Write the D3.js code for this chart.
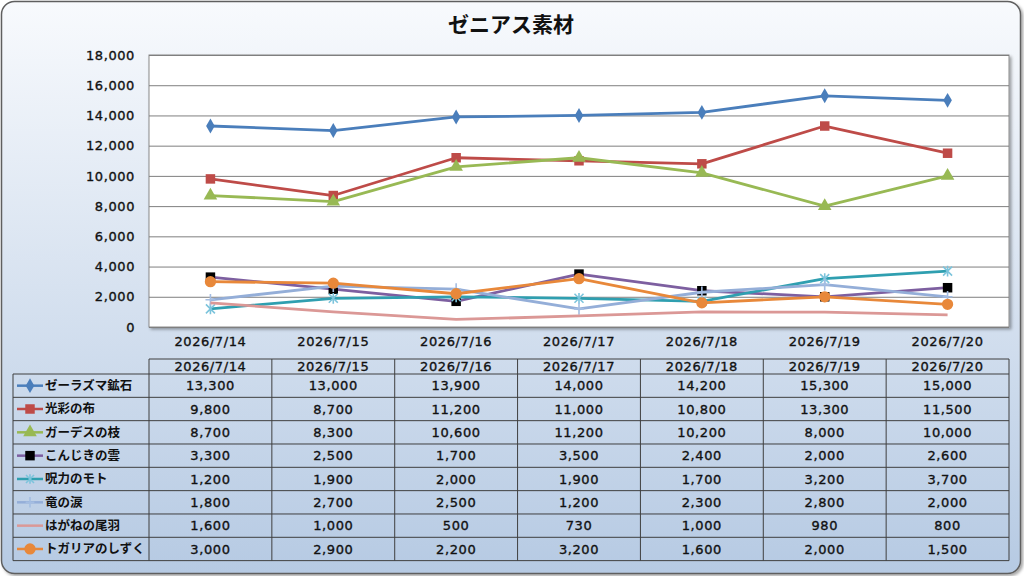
<!DOCTYPE html>
<html lang="ja">
<head>
<meta charset="UTF-8">
<title>ゼニアス素材</title>
<script src="https://d3js.org/d3.v7.min.js"></script>
<style>
    body { margin: 0; }
    text { font-family: "DejaVu Sans", "Noto Sans CJK JP", sans-serif; fill: #111; }
    .num { font-size: 13px; letter-spacing: 0.6px; stroke: #111; stroke-width: 0.35px; }
    .jp { font-family: "Noto Sans CJK JP", sans-serif; font-weight: bold; }
</style>
</head>
<body>
<script>
    // data
    const dates = ["2026/7/14", "2026/7/15", "2026/7/16", "2026/7/17", "2026/7/18", "2026/7/19", "2026/7/20"];
    const names = ["ゼーラズマ鉱石", "光彩の布", "ガーデスの枝", "こんじきの雲", "呪力のモト", "竜の涙", "はがねの尾羽", "トガリアのしずく"];
    const zerazuma = [13300, 13000, 13900, 14000, 14200, 15300, 15000];
    const kousai   = [9800, 8700, 11200, 11000, 10800, 13300, 11500];
    const gardes   = [8700, 8300, 10600, 11200, 10200, 8000, 10000];
    const konjiki  = [3300, 2500, 1700, 3500, 2400, 2000, 2600];
    const juryoku  = [1200, 1900, 2000, 1900, 1700, 3200, 3700];
    const ryu      = [1800, 2700, 2500, 1200, 2300, 2800, 2000];
    const hagane   = [1600, 1000, 500, 730, 1000, 980, 800];
    const togaria  = [3000, 2900, 2200, 3200, 1600, 2000, 1500];
    const yTicks = [0, 2000, 4000, 6000, 8000, 10000, 12000, 14000, 16000, 18000];

    const values = [zerazuma, kousai, gardes, konjiki, juryoku, ryu, hagane, togaria];
    const lineColors = ["#4a7ebb", "#be4b48", "#98b954", "#7d5fa0", "#2f9fb0", "#94aed8", "#db9896", "#e8883a"];
    const markColors = ["#4a7ebb", "#be4b48", "#98b954", "#000000", "#7cc4dc", "#a4bde2", null, "#e8883a"];
    const markTypes = ["diamond", "square", "triangle", "square", "star", "plus", "none", "circle"];

    const W = 1024, H = 576;
    const svg = d3.select("body").append("svg")
        .attr("width", W).attr("height", H);

    const defs = svg.append("defs");
    const grad = defs.append("linearGradient").attr("id", "bg")
        .attr("x1", 0).attr("y1", 0).attr("x2", 0).attr("y2", 1);
    grad.append("stop").attr("offset", "0%").attr("stop-color", "#f8fafd");
    grad.append("stop").attr("offset", "100%").attr("stop-color", "#b6cae3");
    const sh = defs.append("filter").attr("id", "shadow")
        .attr("x", "-5%").attr("y", "-5%").attr("width", "110%").attr("height", "115%");
    sh.append("feDropShadow").attr("dx", 2).attr("dy", 2).attr("stdDeviation", 1.5)
        .attr("flood-color", "#000").attr("flood-opacity", 0.35);

    svg.append("rect")
        .attr("x", 1.5).attr("y", 1.5).attr("width", 1019).attr("height", 572)
        .attr("rx", 13)
        .attr("fill", "url(#bg)").attr("stroke", "#5f5f5f").attr("stroke-width", 1.5)
        .attr("filter", "url(#shadow)");

    svg.append("text")
        .attr("class", "jp")
        .attr("x", 511).attr("y", 24).attr("dy", "0.36em")
        .attr("text-anchor", "middle")
        .style("font-size", "21px")
        .text("ゼニアス素材");

    const plotL = 149, plotR = 1009, plotT = 55, plotB = 327;

    const x = d3.scaleBand().domain(dates).range([plotL, plotR]);
    const y = d3.scaleLinear().domain([0, 18000]).range([plotB, plotT]);
    const cx = d => x(d) + x.bandwidth() / 2;

    // plot area
    svg.append("rect")
        .attr("x", plotL).attr("y", plotT).attr("width", plotR - plotL).attr("height", plotB - plotT)
        .attr("fill", "#fff").attr("stroke", "#8a8a8a").attr("stroke-width", 1)
        .attr("filter", "url(#shadow)");

    svg.append("g")
        .attr("transform", `translate(${plotL},0)`)
        .call(d3.axisLeft(y).tickValues(yTicks).tickSize(-(plotR - plotL)).tickFormat(""))
        .call(g => g.select(".domain").remove())
        .call(g => g.selectAll("line").attr("stroke", "#7f7f7f").attr("stroke-width", 1));

    svg.append("g")
        .attr("transform", `translate(${plotL},0)`)
        .call(d3.axisLeft(y).tickValues(yTicks).tickSize(0).tickPadding(14).tickFormat(d3.format(",")))
        .call(g => g.select(".domain").remove())
        .call(g => g.selectAll("text").attr("class", "num").attr("fill", "#111").attr("font-family", null).attr("font-size", null));

    svg.append("g")
        .attr("transform", `translate(0,${plotB})`)
        .call(d3.axisBottom(x).tickSize(0).tickPadding(10))
        .call(g => g.select(".domain").remove())
        .call(g => g.selectAll("text").attr("class", "num").attr("fill", "#111").attr("font-family", null).attr("font-size", null));

    // markers
    function drawMarker(g, type, color, s) {
        if (type === "none") return;
        if (type === "star") {
            g.append("path")
                .attr("d", `M${-s},${-s}L${s},${s}M${-s},${s}L${s},${-s}M0,${-s * 1.2}L0,${s * 1.2}`)
                .attr("stroke", color).attr("stroke-width", 1.6).attr("fill", "none");
        } else if (type === "plus") {
            g.append("path")
                .attr("d", `M${-s * 1.1},0L${s * 1.1},0M0,${-s * 1.3}L0,${s * 1.3}`)
                .attr("stroke", color).attr("stroke-width", 1.6).attr("fill", "none");
        } else {
            const sym = { diamond: d3.symbolDiamond, square: d3.symbolSquare, triangle: d3.symbolTriangle, circle: d3.symbolCircle }[type];
            const size = { diamond: 64, square: 90, triangle: 80, circle: 100 }[type];
            g.append("path").attr("d", d3.symbol(sym, size)()).attr("fill", color);
        }
    }

    const line = d3.line().x((d, i) => cx(dates[i])).y(d => y(d));

    values.forEach((vals, k) => {
        svg.append("path")
            .datum(vals)
            .attr("d", line)
            .attr("fill", "none")
            .attr("stroke", lineColors[k])
            .attr("stroke-width", 2.8)
            .attr("stroke-linejoin", "round");
        vals.forEach((v, i) => {
            const g = svg.append("g").attr("transform", `translate(${cx(dates[i])},${y(v)})`);
            drawMarker(g, markTypes[k], markColors[k], 4.5);
        });
    });

    // data table
    const tTop = 359, hRow = 374, rowH = 23.33, tLeft = 13;
    const tBottom = hRow + rowH * names.length;
    const tbl = svg.append("g").attr("stroke", "#3f3f3f").attr("stroke-width", 1);
    tbl.append("line").attr("x1", plotL).attr("x2", plotR).attr("y1", tTop).attr("y2", tTop);
    d3.range(names.length + 1).forEach(k => {
        tbl.append("line").attr("x1", tLeft).attr("x2", plotR)
            .attr("y1", hRow + k * rowH).attr("y2", hRow + k * rowH);
    });
    tbl.append("line").attr("x1", tLeft).attr("x2", tLeft).attr("y1", hRow).attr("y2", tBottom);
    d3.range(dates.length + 1).forEach(i => {
        const xx = plotL + i * x.bandwidth();
        tbl.append("line").attr("x1", xx).attr("x2", xx).attr("y1", tTop).attr("y2", tBottom);
    });

    svg.append("g").selectAll("text")
        .data(dates).join("text")
        .attr("class", "num")
        .attr("x", d => cx(d)).attr("y", 366).attr("dy", "0.36em")
        .attr("text-anchor", "middle")
        .text(d => d);

    const fmt = d3.format(",");
    names.forEach((name, k) => {
        const ry = hRow + k * rowH + rowH / 2;
        svg.append("line")
            .attr("x1", 17).attr("x2", 43).attr("y1", ry).attr("y2", ry)
            .attr("stroke", lineColors[k]).attr("stroke-width", 2.5);
        drawMarker(svg.append("g").attr("transform", `translate(30,${ry})`), markTypes[k], markColors[k], 4);
        svg.append("text")
            .attr("class", "jp")
            .attr("x", 45).attr("y", ry).attr("dy", "0.36em")
            .style("font-size", "12.5px")
            .text(name);
        svg.append("g").selectAll("text")
            .data(values[k]).join("text")
            .attr("class", "num")
            .attr("x", (d, i) => cx(dates[i])).attr("y", ry).attr("dy", "0.36em")
            .attr("text-anchor", "middle")
            .text(d => fmt(d));
    });
</script>
</body>
</html>
